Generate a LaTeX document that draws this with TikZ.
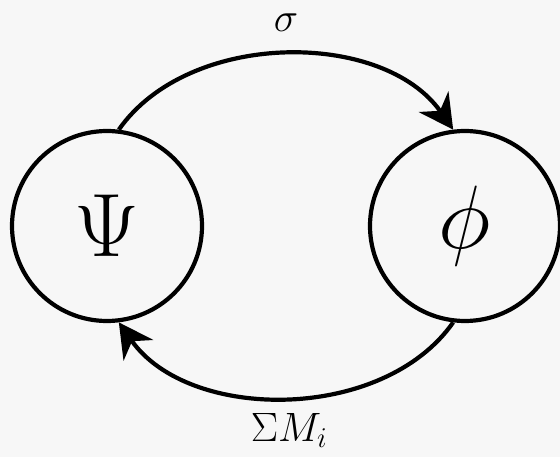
\documentclass[tikz,border=0pt]{standalone}
\usepackage{fix-cm}
\usetikzlibrary{arrows.meta}
\tikzset{
  state/.style={circle, draw, line width=4.2pt, minimum size=190pt, inner sep=0pt, font=\fontsize{90}{90}\selectfont},
  conn/.style={line width=4.2pt, -{Stealth[length=34pt,width=36pt,inset=11pt]}},
  lbl/.style={inner sep=0pt, anchor=base, font=\fontsize{41}{41}\selectfont}
}
\begin{document}
\begin{tikzpicture}[x=1pt,y=-1pt]
\useasboundingbox (0,0) rectangle (560,457);
\fill[white!97!black] (0,0) rectangle (560,457);
\node[state] (L) at (107,226) {$\Psi$};
\node[state] (R) at (465,226) {$\phi$};
\node[lbl] (s) at (286,32) {$\sigma$};
\node[lbl] (m) at (289,441) {$\Sigma M_i$};
\draw[conn] (L.83) .. controls +(70,-100) and +(-70,-100) .. (R.97);
\draw[conn] (R.-97) .. controls +(-70,100) and +(70,100) .. (L.-83);
\end{tikzpicture}
\end{document}
